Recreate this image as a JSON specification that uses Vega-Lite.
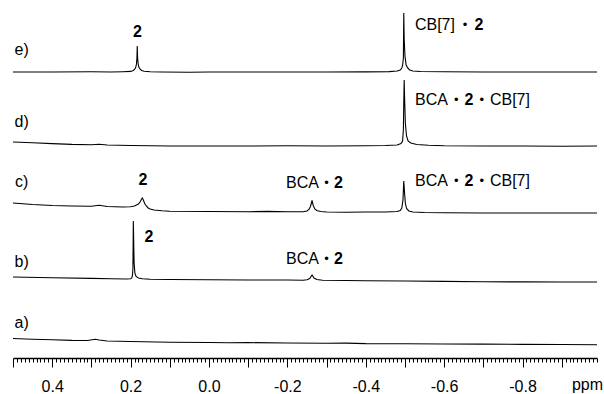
{
  "$schema": "https://vega.github.io/schema/vega-lite/v6.json",
  "width": 584,
  "height": 358,
  "autosize": {"type": "none"},
  "padding": {"left": 13, "top": 0, "right": 7, "bottom": 36},
  "background": "white",
  "config": {
    "view": {"stroke": null},
    "font": "Liberation Sans"
  },
  "datasets": {
    "spectra": [
      {"trace":"e","ppm":0.5,"intensity":286},{"trace":"e","ppm":0.4,"intensity":286},{"trace":"e","ppm":0.3,"intensity":286.2},{"trace":"e","ppm":0.25,"intensity":286},{"trace":"e","ppm":0.22,"intensity":286.3},{"trace":"e","ppm":0.2,"intensity":286.6},{"trace":"e","ppm":0.193,"intensity":287.5},{"trace":"e","ppm":0.19,"intensity":288.5},{"trace":"e","ppm":0.187,"intensity":290.5},{"trace":"e","ppm":0.185,"intensity":294},{"trace":"e","ppm":0.1838,"intensity":300},{"trace":"e","ppm":0.183,"intensity":312},{"trace":"e","ppm":0.1822,"intensity":301},{"trace":"e","ppm":0.181,"intensity":295},{"trace":"e","ppm":0.179,"intensity":291},{"trace":"e","ppm":0.176,"intensity":289},{"trace":"e","ppm":0.172,"intensity":287.5},{"trace":"e","ppm":0.165,"intensity":286.8},{"trace":"e","ppm":0.15,"intensity":286.3},{"trace":"e","ppm":0.12,"intensity":286},{"trace":"e","ppm":0.05,"intensity":285.8},{"trace":"e","ppm":0.0,"intensity":286},{"trace":"e","ppm":-0.1,"intensity":286},{"trace":"e","ppm":-0.2,"intensity":286},{"trace":"e","ppm":-0.3,"intensity":286},{"trace":"e","ppm":-0.4,"intensity":286.1},{"trace":"e","ppm":-0.46,"intensity":286.4},{"trace":"e","ppm":-0.48,"intensity":287},{"trace":"e","ppm":-0.488,"intensity":288},{"trace":"e","ppm":-0.492,"intensity":290},{"trace":"e","ppm":-0.494,"intensity":292.5},{"trace":"e","ppm":-0.496,"intensity":300},{"trace":"e","ppm":-0.497,"intensity":345},{"trace":"e","ppm":-0.498,"intensity":320},{"trace":"e","ppm":-0.5,"intensity":302},{"trace":"e","ppm":-0.503,"intensity":293},{"trace":"e","ppm":-0.507,"intensity":290},{"trace":"e","ppm":-0.512,"intensity":288},{"trace":"e","ppm":-0.52,"intensity":287},{"trace":"e","ppm":-0.54,"intensity":286.5},{"trace":"e","ppm":-0.6,"intensity":286.2},{"trace":"e","ppm":-0.7,"intensity":286},{"trace":"e","ppm":-0.8,"intensity":286},{"trace":"e","ppm":-0.9,"intensity":286},{"trace":"e","ppm":-0.99,"intensity":286},

      {"trace":"d","ppm":0.5,"intensity":216},{"trace":"d","ppm":0.45,"intensity":215.2},{"trace":"d","ppm":0.4,"intensity":214.4},{"trace":"d","ppm":0.35,"intensity":213.6},{"trace":"d","ppm":0.3,"intensity":213.3},{"trace":"d","ppm":0.28,"intensity":213.8},{"trace":"d","ppm":0.26,"intensity":213},{"trace":"d","ppm":0.2,"intensity":212.5},{"trace":"d","ppm":0.1,"intensity":212},{"trace":"d","ppm":0.0,"intensity":212},{"trace":"d","ppm":-0.1,"intensity":212},{"trace":"d","ppm":-0.2,"intensity":212.2},{"trace":"d","ppm":-0.3,"intensity":212},{"trace":"d","ppm":-0.4,"intensity":212.2},{"trace":"d","ppm":-0.45,"intensity":212.5},{"trace":"d","ppm":-0.48,"intensity":213},{"trace":"d","ppm":-0.49,"intensity":214.5},{"trace":"d","ppm":-0.494,"intensity":217},{"trace":"d","ppm":-0.496,"intensity":228},{"trace":"d","ppm":-0.497,"intensity":255},{"trace":"d","ppm":-0.498,"intensity":278},{"trace":"d","ppm":-0.499,"intensity":262},{"trace":"d","ppm":-0.501,"intensity":235},{"trace":"d","ppm":-0.504,"intensity":222},{"trace":"d","ppm":-0.508,"intensity":217},{"trace":"d","ppm":-0.515,"intensity":215},{"trace":"d","ppm":-0.53,"intensity":213.5},{"trace":"d","ppm":-0.56,"intensity":212.8},{"trace":"d","ppm":-0.6,"intensity":212.3},{"trace":"d","ppm":-0.7,"intensity":212},{"trace":"d","ppm":-0.8,"intensity":212},{"trace":"d","ppm":-0.9,"intensity":211.8},{"trace":"d","ppm":-0.99,"intensity":212},

      {"trace":"c","ppm":0.5,"intensity":155},{"trace":"c","ppm":0.45,"intensity":153.5},{"trace":"c","ppm":0.4,"intensity":152.5},{"trace":"c","ppm":0.35,"intensity":152},{"trace":"c","ppm":0.3,"intensity":151.8},{"trace":"c","ppm":0.28,"intensity":152.8},{"trace":"c","ppm":0.26,"intensity":151.5},{"trace":"c","ppm":0.22,"intensity":151},{"trace":"c","ppm":0.2,"intensity":151.2},{"trace":"c","ppm":0.19,"intensity":152},{"trace":"c","ppm":0.18,"intensity":154},{"trace":"c","ppm":0.175,"intensity":156.5},{"trace":"c","ppm":0.172,"intensity":159},{"trace":"c","ppm":0.17,"intensity":160},{"trace":"c","ppm":0.168,"intensity":158.5},{"trace":"c","ppm":0.164,"intensity":154.5},{"trace":"c","ppm":0.16,"intensity":152},{"trace":"c","ppm":0.155,"intensity":150},{"trace":"c","ppm":0.15,"intensity":149},{"trace":"c","ppm":0.14,"intensity":148},{"trace":"c","ppm":0.12,"intensity":147.2},{"trace":"c","ppm":0.1,"intensity":146.8},{"trace":"c","ppm":0.0,"intensity":146.5},{"trace":"c","ppm":-0.1,"intensity":146.3},{"trace":"c","ppm":-0.15,"intensity":146.6},{"trace":"c","ppm":-0.2,"intensity":146.2},{"trace":"c","ppm":-0.24,"intensity":146.2},{"trace":"c","ppm":-0.25,"intensity":147},{"trace":"c","ppm":-0.255,"intensity":148.5},{"trace":"c","ppm":-0.259,"intensity":151.5},{"trace":"c","ppm":-0.263,"intensity":157.5},{"trace":"c","ppm":-0.266,"intensity":152.5},{"trace":"c","ppm":-0.27,"intensity":149},{"trace":"c","ppm":-0.275,"intensity":147.5},{"trace":"c","ppm":-0.285,"intensity":146.5},{"trace":"c","ppm":-0.3,"intensity":146},{"trace":"c","ppm":-0.35,"intensity":145.8},{"trace":"c","ppm":-0.4,"intensity":146},{"trace":"c","ppm":-0.45,"intensity":146},{"trace":"c","ppm":-0.48,"intensity":146.5},{"trace":"c","ppm":-0.488,"intensity":147.5},{"trace":"c","ppm":-0.492,"intensity":150},{"trace":"c","ppm":-0.495,"intensity":158},{"trace":"c","ppm":-0.497,"intensity":177},{"trace":"c","ppm":-0.499,"intensity":165},{"trace":"c","ppm":-0.501,"intensity":155},{"trace":"c","ppm":-0.504,"intensity":149.5},{"trace":"c","ppm":-0.51,"intensity":147},{"trace":"c","ppm":-0.52,"intensity":146},{"trace":"c","ppm":-0.55,"intensity":145.5},{"trace":"c","ppm":-0.6,"intensity":145.2},{"trace":"c","ppm":-0.7,"intensity":145},{"trace":"c","ppm":-0.8,"intensity":145},{"trace":"c","ppm":-0.9,"intensity":145},{"trace":"c","ppm":-0.99,"intensity":145},

      {"trace":"b","ppm":0.5,"intensity":81},{"trace":"b","ppm":0.4,"intensity":80.2},{"trace":"b","ppm":0.3,"intensity":79.6},{"trace":"b","ppm":0.25,"intensity":79.2},{"trace":"b","ppm":0.21,"intensity":79},{"trace":"b","ppm":0.2,"intensity":79.2},{"trace":"b","ppm":0.197,"intensity":80},{"trace":"b","ppm":0.195,"intensity":83},{"trace":"b","ppm":0.194,"intensity":90},{"trace":"b","ppm":0.193,"intensity":137},{"trace":"b","ppm":0.192,"intensity":115},{"trace":"b","ppm":0.191,"intensity":95},{"trace":"b","ppm":0.189,"intensity":85},{"trace":"b","ppm":0.186,"intensity":81.5},{"trace":"b","ppm":0.18,"intensity":80},{"trace":"b","ppm":0.17,"intensity":79.2},{"trace":"b","ppm":0.15,"intensity":78.8},{"trace":"b","ppm":0.1,"intensity":78.5},{"trace":"b","ppm":0.0,"intensity":78.2},{"trace":"b","ppm":-0.1,"intensity":78},{"trace":"b","ppm":-0.2,"intensity":78},{"trace":"b","ppm":-0.24,"intensity":77.8},{"trace":"b","ppm":-0.25,"intensity":78.3},{"trace":"b","ppm":-0.257,"intensity":79.5},{"trace":"b","ppm":-0.263,"intensity":83},{"trace":"b","ppm":-0.268,"intensity":80},{"trace":"b","ppm":-0.275,"intensity":78.5},{"trace":"b","ppm":-0.29,"intensity":77.8},{"trace":"b","ppm":-0.35,"intensity":77.5},{"trace":"b","ppm":-0.4,"intensity":77.2},{"trace":"b","ppm":-0.5,"intensity":77},{"trace":"b","ppm":-0.6,"intensity":76.6},{"trace":"b","ppm":-0.7,"intensity":76.3},{"trace":"b","ppm":-0.8,"intensity":76.1},{"trace":"b","ppm":-0.9,"intensity":76},{"trace":"b","ppm":-0.99,"intensity":76},

      {"trace":"a","ppm":0.5,"intensity":19.5},{"trace":"a","ppm":0.45,"intensity":18.8},{"trace":"a","ppm":0.4,"intensity":18.2},{"trace":"a","ppm":0.35,"intensity":17.6},{"trace":"a","ppm":0.31,"intensity":17.5},{"trace":"a","ppm":0.29,"intensity":18.8},{"trace":"a","ppm":0.28,"intensity":18},{"trace":"a","ppm":0.26,"intensity":17},{"trace":"a","ppm":0.2,"intensity":16.5},{"trace":"a","ppm":0.1,"intensity":15.8},{"trace":"a","ppm":0.0,"intensity":15.5},{"trace":"a","ppm":-0.05,"intensity":15.3},{"trace":"a","ppm":-0.1,"intensity":15.4},{"trace":"a","ppm":-0.2,"intensity":15},{"trace":"a","ppm":-0.3,"intensity":14.8},{"trace":"a","ppm":-0.35,"intensity":14.9},{"trace":"a","ppm":-0.4,"intensity":14.4},{"trace":"a","ppm":-0.5,"intensity":14.3},{"trace":"a","ppm":-0.6,"intensity":14},{"trace":"a","ppm":-0.7,"intensity":13.9},{"trace":"a","ppm":-0.8,"intensity":13.6},{"trace":"a","ppm":-0.9,"intensity":13.5},{"trace":"a","ppm":-0.99,"intensity":13.3}
    ],
    "regular": [
      {"t":"e)","ppm":0.478,"intensity":308},
      {"t":"d)","ppm":0.478,"intensity":236},
      {"t":"c)","ppm":0.478,"intensity":176},
      {"t":"b)","ppm":0.478,"intensity":96},
      {"t":"a)","ppm":0.478,"intensity":35},
      {"t":"CB[7]","ppm":-0.5765,"intensity":333},
      {"t":"BCA","ppm":-0.5676,"intensity":258},
      {"t":"CB[7]","ppm":-0.7679,"intensity":258},
      {"t":"BCA","ppm":-0.5676,"intensity":177},
      {"t":"CB[7]","ppm":-0.7679,"intensity":177},
      {"t":"BCA","ppm":-0.2385,"intensity":175},
      {"t":"BCA","ppm":-0.2385,"intensity":99}
    ],
    "dots": [
      {"t":"•","ppm":-0.6531,"intensity":333},
      {"t":"•","ppm":-0.6307,"intensity":258},
      {"t":"•","ppm":-0.6958,"intensity":258},
      {"t":"•","ppm":-0.6307,"intensity":177},
      {"t":"•","ppm":-0.6958,"intensity":177},
      {"t":"•","ppm":-0.2997,"intensity":175},
      {"t":"•","ppm":-0.2997,"intensity":99}
    ],
    "bold": [
      {"t":"2","ppm":0.1824,"intensity":326},
      {"t":"2","ppm":-0.6888,"intensity":333},
      {"t":"2","ppm":-0.6633,"intensity":258},
      {"t":"2","ppm":0.1684,"intensity":178},
      {"t":"2","ppm":-0.3304,"intensity":175},
      {"t":"2","ppm":-0.6633,"intensity":177},
      {"t":"2","ppm":0.1531,"intensity":121},
      {"t":"2","ppm":-0.3304,"intensity":99}
    ]
  },
  "encoding": {
    "x": {
      "field": "ppm", "type": "quantitative",
      "scale": {"domain": [-0.99, 0.5], "reverse": true, "nice": false, "zero": false},
      "axis": {
        "tickCount": 150,
        "labelExpr": "round(datum.value*100) % 20 == 0 ? (round(datum.value*10) < 0 ? '-' : '') + format(abs(datum.value), '.1f') : ''",
        "tickSize": {"condition": {"test": "round(datum.value*100) % 10 == 0", "value": 9}, "value": 4},
        "labelOverlap": false,
        "labelFlush": false,
        "grid": false,
        "domainColor": "black",
        "domainWidth": 1.5,
        "tickColor": "black",
        "tickWidth": 1,
        "labelFontSize": 16,
        "labelColor": "black",
        "labelPadding": 11,
        "title": "ppm",
        "titleX": 574,
        "titleY": 31,
        "titleFontWeight": "normal",
        "titleFontSize": 16,
        "titleColor": "black",
        "titleAlign": "center",
        "titleBaseline": "alphabetic",
        "titleAngle": 0
      }
    },
    "y": {
      "field": "intensity", "type": "quantitative",
      "scale": {"domain": [0, 358], "nice": false, "zero": false},
      "axis": null
    }
  },
  "layer": [
    {
      "data": {"name": "spectra"},
      "mark": {"type": "line", "color": "black", "strokeWidth": 1.1, "interpolate": "linear"},
      "encoding": {"detail": {"field": "trace", "type": "nominal"}}
    },
    {
      "data": {"name": "regular"},
      "mark": {"type": "text", "font": "Liberation Sans", "fontSize": 16, "color": "black", "align": "center", "baseline": "middle"},
      "encoding": {"text": {"field": "t", "type": "nominal"}}
    },
    {
      "data": {"name": "dots"},
      "mark": {"type": "text", "font": "Liberation Sans", "fontSize": 13, "color": "black", "align": "center", "baseline": "middle"},
      "encoding": {"text": {"field": "t", "type": "nominal"}}
    },
    {
      "data": {"name": "bold"},
      "mark": {"type": "text", "font": "Liberation Sans", "fontSize": 16, "fontWeight": "bold", "color": "black", "align": "center", "baseline": "middle"},
      "encoding": {"text": {"field": "t", "type": "nominal"}}
    }
  ]
}
